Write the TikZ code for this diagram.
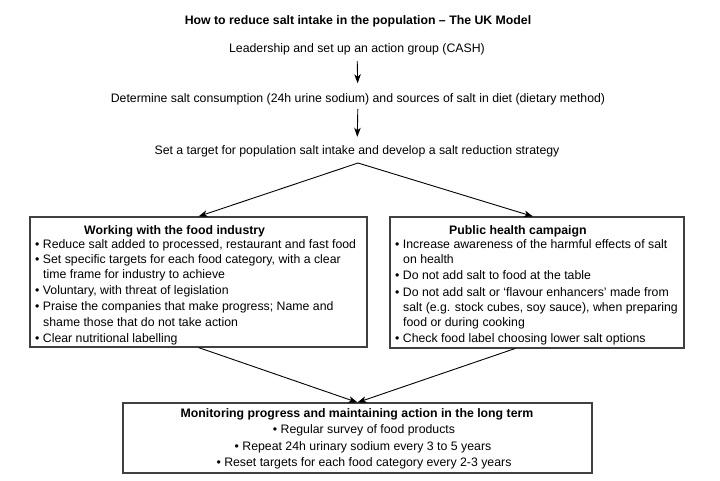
\documentclass[tikz,border=0pt]{standalone}
\usepackage{fontspec}
\setmainfont{Liberation Sans}
\usetikzlibrary{arrows.meta,calc}
\begin{document}
\begin{tikzpicture}[x=1pt,y=-1pt,
  every node/.style={font=\fontsize{12.3}{15}\selectfont},
  ln/.style={inner sep=0pt, text height=8pt, text depth=0pt},
  lnw/.style={ln, anchor=west},
  hd/.style={ln, anchor=west, font=\fontsize{12.3}{15}\selectfont\bfseries},
  box/.style={draw=black!75, line width=1.1pt, rectangle, inner sep=0pt},
  arr/.style={draw=black, line width=0.9pt, -{Stealth[length=9pt,width=6.5pt,inset=2.5pt]}}]
\useasboundingbox (0,0) rectangle (720,481);
\fill[white] (0,0) rectangle (720,481);

% top column
\node[ln, font=\fontsize{12.3}{15}\selectfont\bfseries] (title) at (358,21) {How to reduce salt intake in the population – The UK Model};
\node[ln] (lead) at (357,49) {Leadership and set up an action group (CASH)};
\node[ln] (det) at (358,99) {Determine salt consumption (24h urine sodium) and sources of salt in diet (dietary method)};
\node[ln] (target) at (357,151) {Set a target for population salt intake and develop a salt reduction strategy};
\coordinate (split) at (358,163);

% boxes
\node[box, minimum width=337pt, minimum height=130pt] (lbox) at (198.5,282) {};
\node[box, minimum width=294pt, minimum height=131pt] (rbox) at (537,282.5) {};
\node[box, minimum width=469pt, minimum height=70pt] (bbox) at (357.5,438) {};

% left box text
\node[hd] (lt) at (84,230) {Working with the food industry};
\node[lnw] (l1) at (35,244) {• Reduce salt added to processed, restaurant and fast food};
\node[lnw] (l2) at (35,259) {• Set specific targets for each food category, with a clear};
\node[lnw] (l3) at (43,274) {time frame for industry to achieve};
\node[lnw] (l4) at (35,290) {• Voluntary, with threat of legislation};
\node[lnw] (l5) at (35,306) {• Praise the companies that make progress; Name and};
\node[lnw] (l6) at (43,322) {shame those that do not take action};
\node[lnw] (l7) at (35,338) {• Clear nutritional labelling};

% right box text
\node[hd] (rt) at (449,230) {Public health campaign};
\node[lnw] (r1) at (395,244) {• Increase awareness of the harmful effects of salt};
\node[lnw] (r2) at (403,259) {on health};
\node[lnw] (r3) at (395,275) {• Do not add salt to food at the table};
\node[lnw] (r4) at (395,292) {• Do not add salt or ‘flavour enhancers’ made from};
\node[lnw] (r5) at (403,307) {salt (e.g. stock cubes, soy sauce), when preparing};
\node[lnw] (r6) at (403,322) {food or during cooking};
\node[lnw] (r7) at (395,338) {• Check food label choosing lower salt options};

% bottom box text
\node[ln, font=\fontsize{12.3}{15}\selectfont\bfseries] (bt) at (357,413) {Monitoring progress and maintaining action in the long term};
\node[ln] (b1) at (364,429) {• Regular survey of food products};
\node[ln] (b2) at (363,446) {• Repeat 24h urinary sodium every 3 to 5 years};
\node[ln] (b3) at (364,462) {• Reset targets for each food category every 2-3 years};

% connectors
\draw[arr, shorten <=8pt, shorten >=11.5pt] (lead) -- (det);
\draw[arr, shorten <=6pt, shorten >=10pt] (det) -- (target);
\draw[arr] (split) -- (lbox.north);
\draw[arr] (split) -- ([xshift=-4pt]rbox.north);
\draw[arr] (lbox.south) -- (bbox.north);
\draw[arr] ([xshift=-22pt]rbox.south) -- (bbox.north);
\end{tikzpicture}
\end{document}
